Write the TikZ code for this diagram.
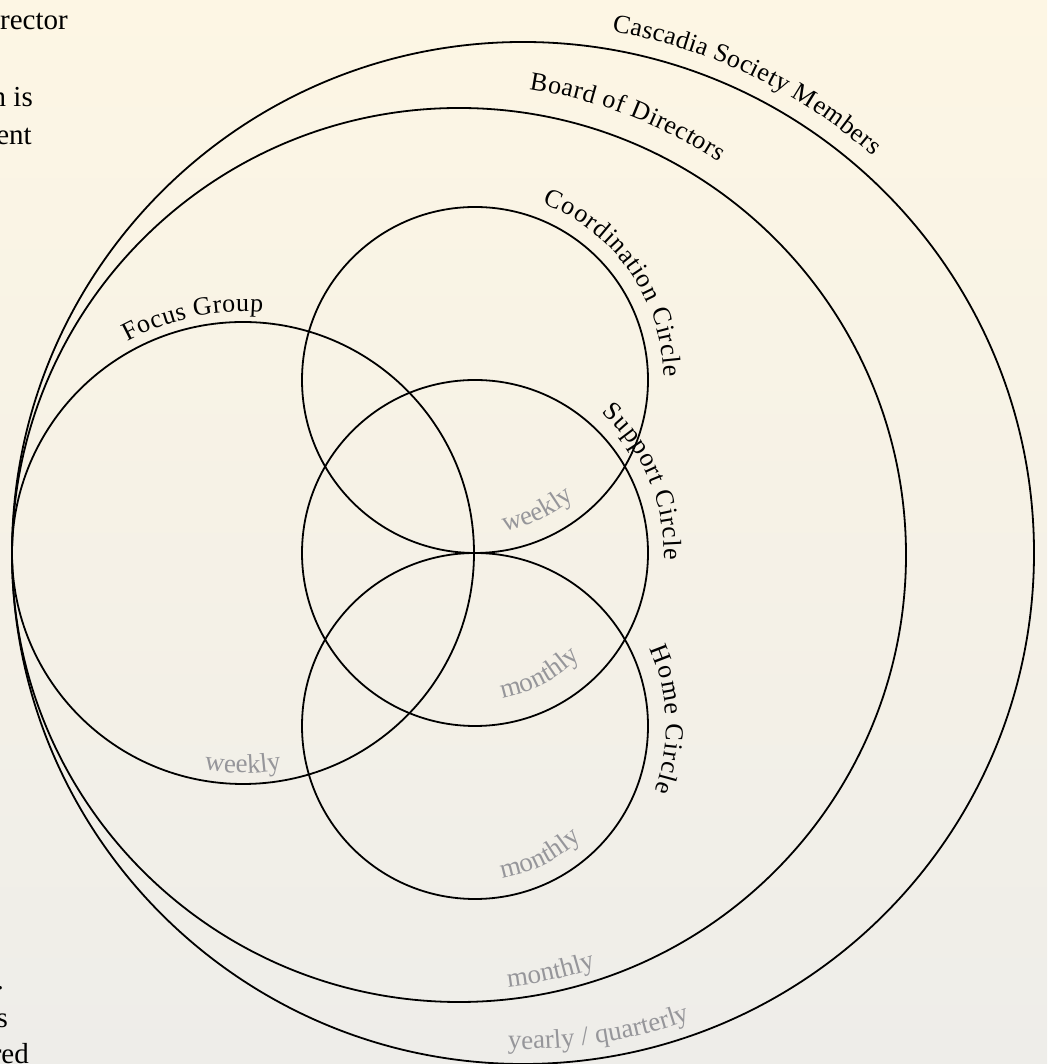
\documentclass[tikz,border=0pt]{standalone}
\usepackage{fontspec}
\setmainfont{Liberation Serif}
\usetikzlibrary{decorations.text,calc}
\definecolor{bgtop}{RGB}{253,246,228}
\definecolor{bgmid}{RGB}{249,244,232}
\definecolor{bgbot}{RGB}{238,237,233}
\definecolor{freq}{RGB}{150,150,154}
\newcommand\lblfont{\fontsize{26}{30}\selectfont}
\newcommand\frqfont{\fontsize{27}{30}\selectfont}
\newcommand\fragfont{\fontsize{29}{34}\selectfont}
\begin{document}
\begin{tikzpicture}[x=1pt,y=1pt,
  ring/.style={circle, draw=black, line width=1.8pt, inner sep=0pt, outer sep=0pt},
  frag/.style={anchor=base east, inner sep=0pt, font=\fragfont},
  lbl/.style={decorate, decoration={text along path, text align=center, raise=#1}},
  frq/.style={decorate, decoration={text along path, text align=center, text color=freq}}]
\useasboundingbox (0,0) rectangle (1047,1064);
\shade[top color=bgtop, middle color=bgmid, bottom color=bgbot] (0,0) rectangle (1047,1064);

% circles
\node[ring, minimum size=1022pt] (cas) at (523,511) {};
\node[ring, minimum size=894pt]  (bod) at (459,509) {};
\node[ring, minimum size=462pt]  (foc) at (243,511) {};
\node[ring, minimum size=346pt]  (coo) at (475,684) {};
\node[ring, minimum size=346pt]  (sup) at (475,511) {};
\node[ring, minimum size=346pt]  (hom) at (475,338) {};

% circle names (outside their circles)
\path[lbl=18pt, decoration={text={|\lblfont|Cascadia Society Members}}]
  ($(cas.center)+(104.5:511pt)$) arc[start angle=104.5, end angle=24.5, radius=511pt];
\path[lbl=24pt, decoration={text={|\lblfont|Board of Directors}}]
  ($(bod.center)+(109:447pt)$) arc[start angle=109, end angle=29, radius=447pt];
\path[lbl=10pt, decoration={text={|\lblfont|Focus Group}}]
  ($(foc.center)+(147:231pt)$) arc[start angle=147, end angle=57, radius=231pt];
\path[lbl=16pt, decoration={text={|\lblfont|Coordination Circle}}]
  ($(coo.center)+(90:173pt)$) arc[start angle=90, end angle=-20, radius=173pt];
\path[lbl=16pt, decoration={text={|\lblfont|Support Circle}}]
  ($(sup.center)+(78:173pt)$) arc[start angle=78, end angle=-32, radius=173pt];
\path[lbl=18pt, decoration={text={|\lblfont|Home Circle}}]
  ($(hom.center)+(57:173pt)$) arc[start angle=57, end angle=-53, radius=173pt];

% meeting frequencies (inside their circles)
\path[frq, decoration={text={|\frqfont|weekly}}]
  ($(coo.center)+(-119.5:154pt)$) arc[start angle=-119.5, end angle=-9.5, radius=154pt];
\path[frq, decoration={text={|\frqfont|weekly}}]
  ($(foc.center)+(-140:220pt)$) arc[start angle=-140, end angle=-40, radius=220pt];
\path[frq, decoration={text={|\frqfont|monthly}}]
  ($(sup.center)+(-122:148pt)$) arc[start angle=-122, end angle=-2, radius=148pt];
\path[frq, decoration={text={|\frqfont|monthly}}]
  ($(hom.center)+(-123.3:155pt)$) arc[start angle=-123.3, end angle=-3.3, radius=155pt];
\path[frq, decoration={text={|\frqfont|monthly}}]
  ($(bod.center)+(-117.6:435pt)$) arc[start angle=-117.6, end angle=-37.6, radius=435pt];
\path[frq, decoration={text={|\frqfont|yearly / quarterly}}]
  ($(cas.center)+(-121:496pt)$) arc[start angle=-121, end angle=-41, radius=496pt];

% clipped paragraph fragments at the left edge
\node[frag] (f1) at (68,1034) {rector};
\node[frag] (f2) at (33,957) {n is};
\node[frag] (f3) at (32,919) {ent};
\node[frag] (f4) at (4,74) {.};
\node[frag] (f5) at (8,36) {s};
\node[frag] (f6) at (29,1) {red};
\end{tikzpicture}
\end{document}
